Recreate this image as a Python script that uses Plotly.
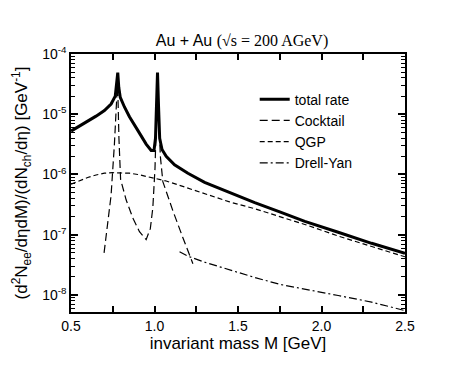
"""Dilepton rates, Au + Au at 200 AGeV"""
import plotly.graph_objects as go

# invariant mass [GeV] and rates [GeV^-1]
total_m = [0.50, 0.55, 0.60, 0.65, 0.70, 0.74, 0.765, 0.773, 0.780, 0.786, 0.795,
           0.82, 0.85, 0.90, 0.95, 0.98, 0.997, 1.006, 1.012, 1.018, 1.024, 1.031,
           1.045, 1.07, 1.12, 1.20, 1.30, 1.45, 1.60, 1.75, 1.90, 2.10, 2.30, 2.50]
total_rate = [5.25e-6, 6.3e-6, 7.6e-6, 9.3e-6, 1.15e-5, 1.48e-5, 2.0e-5, 3.16e-5, 4.9e-5,
              2.8e-5, 1.9e-5, 1.32e-5, 9.1e-6, 5.4e-6, 3.2e-6, 2.5e-6, 2.5e-6, 4.0e-6,
              1.4e-5, 4.9e-5, 1.4e-5, 4.0e-6, 2.6e-6, 2.0e-6, 1.45e-6, 1.05e-6, 7.4e-7,
              5.0e-7, 3.4e-7, 2.4e-7, 1.66e-7, 1.1e-7, 7.2e-8, 4.9e-8]

cocktail_m = [0.698, 0.72, 0.74, 0.76, 0.77, 0.779, 0.787, 0.797, 0.83, 0.87, 0.91,
              0.95, 0.975, 0.99, 1.003, 1.012, 1.018, 1.025, 1.035, 1.05, 1.08, 1.11,
              1.17, 1.23]
cocktail_rate = [5.0e-8, 1.8e-7, 4.5e-7, 3.2e-6, 1.0e-5, 3.6e-5, 4.0e-6, 8.3e-7, 3.8e-7,
                 1.9e-7, 1.12e-7, 8.3e-8, 1.26e-7, 2.8e-7, 1.26e-6, 1.0e-5, 3.8e-5,
                 1.0e-5, 2.0e-6, 7.6e-7, 4.2e-7, 2.5e-7, 8.9e-8, 3.3e-8]

qgp_m = [0.50, 0.55, 0.60, 0.65, 0.70, 0.75, 0.80, 0.85, 0.90, 0.95, 1.00, 1.07,
         1.15, 1.30, 1.45, 1.60, 1.75, 1.90, 2.10, 2.30, 2.50]
qgp_rate = [6.9e-7, 7.9e-7, 8.9e-7, 9.8e-7, 1.05e-6, 1.07e-6, 1.07e-6, 1.05e-6, 1.0e-6,
            9.3e-7, 8.7e-7, 7.8e-7, 6.6e-7, 4.8e-7, 3.5e-7, 2.7e-7, 2.0e-7, 1.48e-7,
            9.5e-8, 6.3e-8, 4.3e-8]

dy_m = [1.15, 1.20, 1.30, 1.45, 1.60, 1.75, 1.90, 2.10, 2.30, 2.50]
dy_rate = [5.2e-8, 4.4e-8, 3.5e-8, 2.6e-8, 1.95e-8, 1.5e-8, 1.26e-8, 9.8e-9, 7.6e-9, 5.5e-9]

# axis ticks
x_ticks = [0.5, 0.75, 1.0, 1.25, 1.5, 1.75, 2.0, 2.25, 2.5]
x_labels = ["0.5", "", "1.0", "", "1.5", "", "2.0", "", "2.5"]
y_decades = [1e-8, 1e-7, 1e-6, 1e-5, 1e-4]
y_labels = ["10<sup>-8</sup>", "10<sup>-7</sup>", "10<sup>-6</sup>",
            "10<sup>-5</sup>", "10<sup>-4</sup>"]
y_minor = [k * 1e-9 for k in range(6, 10)] + [k * d for d in y_decades[:-1] for k in range(2, 10)]

SANS = "Liberation Sans, Arial, sans-serif"
SERIF = "Liberation Serif"
YRANGE = [-8.283, -4]
NOGRID = "rgba(0,0,0,0)"

fig = go.Figure()
fig.add_trace(go.Scatter(x=total_m, y=total_rate, mode="lines", name="total rate",
                         line=dict(color="black", width=3)))
fig.add_trace(go.Scatter(x=cocktail_m, y=cocktail_rate, mode="lines", name="Cocktail",
                         line=dict(color="black", width=1.2, dash="8px,4px")))
fig.add_trace(go.Scatter(x=qgp_m, y=qgp_rate, mode="lines", name="QGP",
                         line=dict(color="black", width=1.2, dash="5px,3px")))
fig.add_trace(go.Scatter(x=dy_m, y=dy_rate, mode="lines", name="Drell-Yan",
                         line=dict(color="black", width=1.2, dash="8px,3px,2px,3px")))

# page body adds 8px, so the figure is 468x360 with the plot at 71..405 / 54..312
fig.update_layout(
    width=468, height=360,
    margin=dict(l=63, r=71, t=46, b=56, autoexpand=False),
    paper_bgcolor="white", plot_bgcolor="white",
    font=dict(family=SANS, size=14, color="black"),
    title=dict(text=f"Au + Au <span style='font-family:{SERIF}'>(√s = 200 AGeV)</span>",
               x=0.5, xanchor="center", y=0.91, yanchor="middle",
               yref="container", font=dict(size=16)),
    showlegend=True,
    legend=dict(x=0.55, y=0.885, xanchor="left", yanchor="top",
                bgcolor="rgba(0,0,0,0)", font=dict(size=14), itemwidth=30),
)
fig.update_xaxes(
    range=[0.5, 2.5], tickvals=x_ticks, ticktext=x_labels, automargin=True,
    ticks="inside", ticklen=6, tickwidth=1.5, tickcolor="black",
    showgrid=True, gridcolor=NOGRID, zeroline=False,
    showline=True, linewidth=1.5, linecolor="black", mirror="ticks",
    title=dict(text="invariant mass M [GeV]", standoff=3),
)
fig.update_yaxes(
    type="log", range=YRANGE, tickvals=y_decades, ticktext=y_labels, automargin=True,
    ticks="inside", ticklen=7, tickwidth=1.5, tickcolor="black",
    showgrid=True, gridcolor=NOGRID, zeroline=False,
    showline=True, linewidth=1.5, linecolor="black", mirror="ticks",
    minor=dict(tickvals=y_minor, ticks="inside", ticklen=4, tickwidth=1.2,
               tickcolor="black", showgrid=True, gridcolor=NOGRID),
    title=dict(text="(d<sup>2</sup>N<sub>ee</sub>/dηdM)/(dN<sub>ch</sub>/dη) [GeV<sup>-1</sup>]",
               standoff=10),
)

fig.write_html("out.html")
